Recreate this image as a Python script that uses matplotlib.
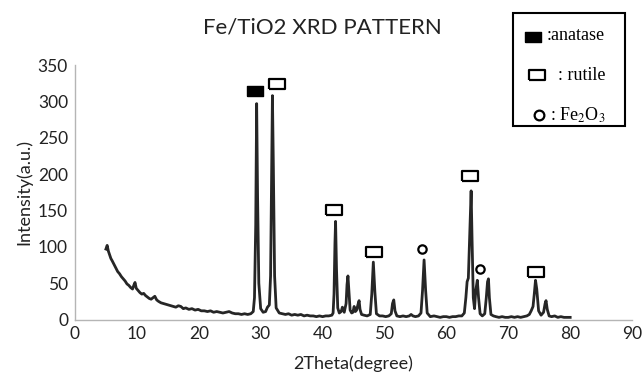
import matplotlib.pyplot as plt
from matplotlib.patches import Rectangle
import numpy as np

# XRD trace: (2theta, intensity)
two_theta = [
    5.0, 5.2, 5.4, 5.6, 5.8, 6.0, 6.3, 6.6, 6.9, 7.2, 7.5, 7.8, 8.1, 8.4, 8.7,
    9.0, 9.3, 9.5, 9.7, 9.9, 10.2, 10.5, 10.8, 11.1, 11.4, 11.7, 12.0, 12.3,
    12.6, 12.9, 13.2, 13.5, 13.9, 14.3, 14.7, 15.1, 15.5, 15.9, 16.3, 16.7,
    17.1, 17.5, 17.9, 18.4, 18.9, 19.4, 19.9, 20.4, 20.9, 21.4, 21.9, 22.4,
    22.9, 23.4, 23.9, 24.4, 24.9, 25.4, 25.9, 26.4, 26.9, 27.4, 27.9, 28.4,
    28.8, 29.0, 29.2, 29.35, 29.5, 29.7, 30.0, 30.4, 30.8, 31.1, 31.4, 31.6,
    31.75, 31.9, 32.05, 32.25, 32.5, 33.0, 33.5, 34.0, 34.5, 35.0, 35.5, 36.0,
    36.5, 37.0, 37.5, 38.0, 38.5, 39.0, 39.5, 40.0, 40.5, 41.0, 41.5, 41.7,
    41.85, 42.0, 42.1, 42.25, 42.45, 42.7, 43.0, 43.2, 43.5, 43.8, 43.95,
    44.1, 44.25, 44.45, 44.7, 44.9, 45.1, 45.3, 45.5, 45.7, 45.9, 46.05,
    46.3, 46.7, 47.2, 47.7, 47.95, 48.2, 48.45, 48.7, 49.2, 49.7, 50.2, 50.7,
    51.1, 51.3, 51.5, 51.7, 52.0, 52.5, 53.0, 53.5, 54.0, 54.3, 54.6, 55.0,
    55.5, 55.9, 56.15, 56.4, 56.65, 56.9, 57.4, 58.0, 58.5, 59.0, 59.5, 60.0,
    60.5, 61.0, 61.5, 62.0, 62.5, 62.9, 63.15, 63.35, 63.55, 63.75, 63.9,
    64.0, 64.15, 64.35, 64.55, 64.75, 65.0, 65.2, 65.45, 65.8, 66.2, 66.45,
    66.65, 66.8, 66.95, 67.2, 67.6, 68.0, 68.5, 69.0, 69.5, 70.0, 70.5, 71.0,
    71.5, 72.0, 72.5, 73.0, 73.4, 73.7, 74.0, 74.2, 74.4, 74.6, 74.9, 75.3,
    75.7, 75.95, 76.1, 76.3, 76.6, 77.0, 77.5, 78.0, 78.5, 79.0, 79.5, 80.0,
]
intensity = [
    97, 102, 94, 89, 84, 81, 76, 71, 66, 63, 59, 56, 53, 49, 47,
    44, 42, 47, 51, 43, 40, 37, 35, 36, 33, 31, 29, 28,
    30, 32, 27, 25, 23, 22, 21, 20, 19, 18, 17, 19,
    18, 15, 16, 14, 15, 13, 14, 12, 12, 11, 12, 10,
    11, 10, 9, 10, 11, 9, 8, 8, 7, 8, 7, 8,
    11, 30, 130, 297, 170, 50, 15, 10, 11, 17, 20, 60,
    190, 308, 210, 60, 16, 9, 8, 7, 8, 6, 7, 6,
    7, 5, 6, 5, 5, 4, 5, 4, 5, 5, 6, 9,
    35, 105, 135, 70, 16, 9, 11, 17, 10, 22, 48,
    60, 40, 13, 9, 10, 18, 11, 13, 20, 26, 14,
    7, 6, 5, 7, 35, 79, 38, 8, 5, 5, 4, 5,
    8, 22, 27, 12, 5, 4, 5, 4, 5, 7, 5, 4,
    5, 9, 40, 82, 40, 9, 4, 5, 4, 3, 4, 4,
    3, 4, 4, 5, 5, 9, 30, 52, 57, 110, 150,
    177, 110, 30, 15, 40, 54, 30, 8, 5, 8, 30,
    52, 56, 30, 7, 5, 4, 3, 4, 3, 3, 4, 3,
    4, 3, 4, 5, 7, 12, 18, 35, 54, 42, 12, 6,
    10, 22, 26, 14, 5, 4, 5, 3, 4, 3, 3, 3,
]

# phase markers above the peaks
anatase_x = [29.1]
anatase_y = [315]
rutile_x = [32.7, 41.8, 48.3, 63.8, 74.4]
rutile_y = [324, 150, 93, 197, 66]
fe2o3_x = [56.1, 65.4]
fe2o3_y = [97, 69]

x_ticks = list(range(0, 100, 10))
y_ticks = list(range(0, 400, 50))

# wide rectangle marker
RECT = [(-1.6, -1), (1.6, -1), (1.6, 1), (-1.6, 1), (-1.6, -1)]

plt.rcParams["font.family"] = ["Lato", "DejaVu Sans"]

fig = plt.figure(figsize=(6.43, 3.72), dpi=100)
ax = fig.add_axes([0.1166, 0.141, 0.983 - 0.1166, 0.825 - 0.141])

ax.plot(two_theta, intensity, color="#262626", lw=2.0, solid_joinstyle="round")

ax.plot(anatase_x, anatase_y, ls="none", marker=RECT, ms=11, mfc="black",
        mec="black", mew=1)
ax.plot(rutile_x, rutile_y, ls="none", marker=RECT, ms=11, mfc="white",
        mec="black", mew=1.6)
ax.plot(fe2o3_x, fe2o3_y, ls="none", marker="o", ms=6, mfc="white",
        mec="black", mew=1.6)

ax.set_xlim(0, 90)
ax.set_ylim(0, 350)
ax.set_xticks(x_ticks)
ax.set_yticks(y_ticks)
ax.tick_params(length=0, labelsize=12.5, colors="#222222", pad=5)
for side in ("top", "right"):
    ax.spines[side].set_visible(False)
for side in ("left", "bottom"):
    ax.spines[side].set_color("#b5b5b5")
    ax.spines[side].set_linewidth(1)

ax.set_xlabel("2Theta(degree)", fontsize=13, color="#222222", labelpad=9)
ax.set_ylabel("Intensity(a.u.)", fontsize=13, color="#222222", labelpad=4)
fig.text(322 / 643, 1 - 27 / 372, "Fe/TiO2 XRD PATTERN", fontsize=16,
         ha="center", va="center", color="#222222")

# hand-made legend box (figure pixels -> fraction)
W, H = 643, 372
fig.patches.append(Rectangle((513 / W, 1 - 126 / H), 112 / W, 113 / H,
                             transform=fig.transFigure, fill=False,
                             ec="black", lw=1.5))
serif = ["Liberation Serif", "DejaVu Serif"]
fig.lines.append(plt.Line2D([532.5 / W], [1 - 37 / H], transform=fig.transFigure,
                            ls="none", marker=RECT, ms=11, mfc="black",
                            mec="black"))
fig.text(547 / W, 1 - 36 / H, ":anatase", family=serif, fontsize=13,
         va="center")
fig.lines.append(plt.Line2D([537 / W], [1 - 74.5 / H], transform=fig.transFigure,
                            ls="none", marker=RECT, ms=11, mfc="white",
                            mec="black", mew=1.6))
fig.text(558 / W, 1 - 75 / H, ": rutile", family=serif, fontsize=13,
         va="center")
fig.lines.append(plt.Line2D([538.5 / W], [1 - 115 / H], transform=fig.transFigure,
                            ls="none", marker="o", ms=7, mfc="white",
                            mec="black", mew=1.6))
fig.text(550 / W, 1 - 115 / H, ": Fe$_2$O$_3$", family=serif, fontsize=13,
         va="center", math_fontfamily="stix")

fig.savefig("out.png", dpi=100)
